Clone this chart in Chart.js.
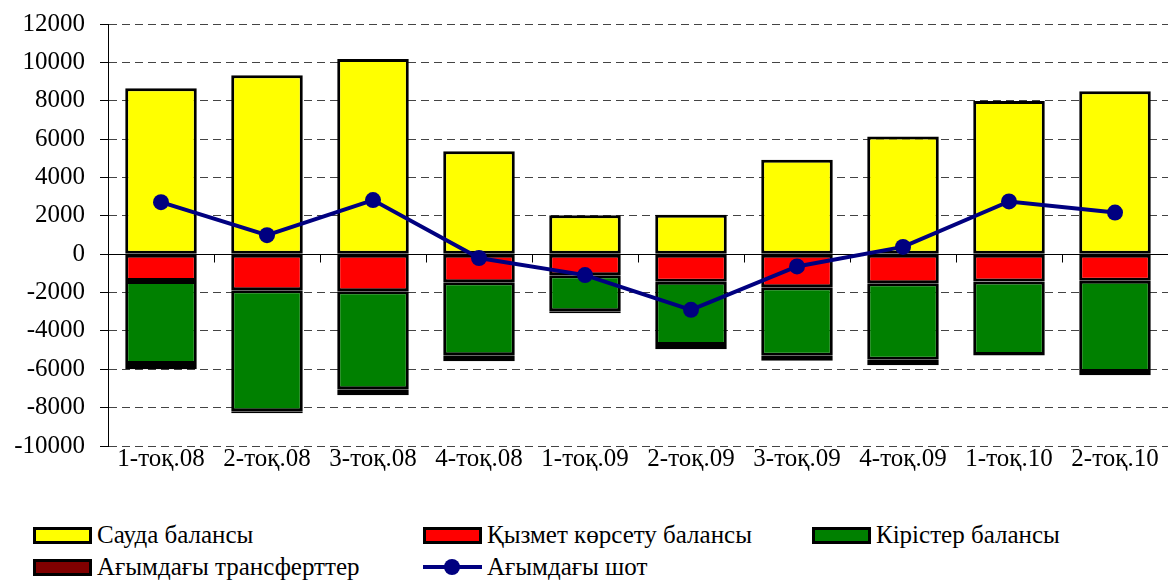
<!DOCTYPE html>
<html>
<head>
<meta charset="utf-8">
<script src="https://cdn.jsdelivr.net/npm/chart.js@4.4.1/dist/chart.umd.min.js"></script>
<style>
  body { margin: 0; background: #fff; }
  #wrap { position: relative; width: 1176px; height: 580px; font-family: 'Liberation Serif', serif; }
  #box { position: absolute; left: 0; top: 0; width: 1176px; height: 480px; }
  #legend { position: absolute; left: 0; top: 519px; width: 1176px; }
  .item { position: absolute; display: flex; align-items: center; height: 32px; font-family: 'Liberation Serif', serif; font-size: 25px; color: #000; white-space: nowrap; }
  .sw { width: 53px; height: 11px; border: 3px solid #000; margin-right: 5px; }
  .ln { position: relative; width: 59px; height: 16px; margin-right: 5px; }
  .ln i { position: absolute; left: 0; right: 0; top: 6px; height: 4px; }
  .ln b { position: absolute; left: 21px; top: 0; width: 16px; height: 16px; border-radius: 50%; }
</style>
</head>
<body>
<div id="wrap">
  <div id="box"><canvas id="balanceChart"></canvas></div>
  <div id="legend"></div>
</div>
<script>
// кварталдар
const labels = ['1-тоқ.08', '2-тоқ.08', '3-тоқ.08', '4-тоқ.08', '1-тоқ.09', '2-тоқ.09', '3-тоқ.09', '4-тоқ.09', '1-тоқ.10', '2-тоқ.10'];

const trade     = [8650, 9330, 10170, 5370, 2030, 2050, 4920, 6140, 7990, 8500];
const services  = [-1400, -1880, -1930, -1460, -1100, -1440, -1720, -1510, -1420, -1390];
const income    = [-4330, -6310, -5110, -3810, -1870, -3300, -3580, -4000, -3830, -4750];
const transfers = [-270, -100, -310, -310, -110, -210, -260, -280, -30, -170];
const current   = [2710, 990, 2820, -200, -1090, -2900, -640, 380, 2750, 2170];

const yTicks = [12000, 10000, 8000, 6000, 4000, 2000, 0, -2000, -4000, -6000, -8000, -10000];

const font = { family: "'Liberation Serif', serif", size: 25 };
Chart.defaults.font.family = "'Liberation Serif', serif";

function bar(label, values, color) {
    return {
        type: 'bar',
        label: label,
        data: values,
        backgroundColor: color,
        borderColor: '#000',
        borderWidth: 3,
        borderSkipped: false,
        barPercentage: 0.675,
        categoryPercentage: 1,
        order: 1
    };
}

// нөлдік сызық және санат белгілері
const zeroLine = {
    id: 'zeroLine',
    beforeDatasetsDraw(chart) {
        const { ctx, chartArea, scales } = chart;
        const y0 = Math.round(scales.y.getPixelForValue(0)) + 0.5;
        ctx.save();
        ctx.strokeStyle = '#000';
        ctx.lineWidth = 1;
        ctx.beginPath();
        ctx.moveTo(chartArea.left, y0);
        ctx.lineTo(chartArea.right, y0);
        for (let i = 1; i < labels.length; i++) {
            const x = Math.round((scales.x.getPixelForValue(i - 1) + scales.x.getPixelForValue(i)) / 2) + 0.5;
            ctx.moveTo(x, y0);
            ctx.lineTo(x, y0 + 8);
        }
        ctx.stroke();
        ctx.restore();
    }
};

const data = {
    labels: labels,
    datasets: [
        {
            type: 'line',
            label: 'Ағымдағы шот',
            data: current,
            borderColor: '#000080',
            backgroundColor: '#000080',
            borderWidth: 4,
            pointRadius: 8,
            pointHoverRadius: 8,
            pointBorderWidth: 0,
            stack: 'line',
            order: 0
        },
        bar('Сауда балансы', trade, '#ffff00'),
        bar('Қызмет көрсету балансы', services, '#ff0000'),
        bar('Кірістер балансы', income, '#008000'),
        bar('Ағымдағы трансферттер', transfers, '#800000')
    ]
};

const config = {
    type: 'bar',
    data: data,
    options: {
        responsive: true,
        maintainAspectRatio: false,
        animation: false,
        layout: { padding: { top: 24, right: 0, left: 0, bottom: 0 } },
        plugins: {
            legend: { display: false },
            tooltip: { enabled: false }
        },
        scales: {
            x: {
                stacked: true,
                grid: { display: false, drawTicks: false },
                border: { display: false },
                ticks: { color: '#000', font: font, padding: -2, maxRotation: 0, autoSkip: false },
                afterFit(scale) {
                    scale.height = 34;
                    scale.paddingLeft = 0;
                    scale.paddingRight = 0;
                }
            },
            y: {
                stacked: true,
                min: -10000,
                max: 12000,
                afterBuildTicks(scale) { scale.ticks = yTicks.map(v => ({ value: v })); },
                afterFit(scale) {
                    scale.width = 108;
                    scale.paddingTop = 0;
                    scale.paddingBottom = 0;
                },
                ticks: { color: '#000', font: font, padding: 15, callback: v => String(v) },
                grid: {
                    color: ctx => (ctx.tick && ctx.tick.value === 0) ? 'rgba(0,0,0,0)' : '#444',
                    lineWidth: 1,
                    tickLength: 8,
                    tickColor: '#000',
                    tickBorderDash: []
                },
                border: { display: true, color: '#000', width: 1, dash: [8, 5] }
            }
        }
    },
    plugins: [zeroLine]
};

let balanceChart;

function drawLegend() {
    const legendOrder = [
        { i: 1, x: 33, row: 0 },
        { i: 2, x: 423, row: 0 },
        { i: 3, x: 812, row: 0 },
        { i: 4, x: 33, row: 1 },
        { i: 0, x: 423, row: 1 }
    ];
    const legendEl = document.getElementById('legend');
    legendOrder.forEach(o => {
        const ds = data.datasets[o.i];
        const item = document.createElement('div');
        item.className = 'item';
        item.style.left = o.x + 'px';
        item.style.top = (o.row * 32) + 'px';
        const sym = document.createElement('span');
        if (ds.type === 'line') {
            sym.className = 'ln';
            sym.innerHTML = '<i style="background:' + ds.borderColor + '"></i><b style="background:' + ds.borderColor + '"></b>';
        } else {
            sym.className = 'sw';
            sym.style.background = ds.backgroundColor;
        }
        item.appendChild(sym);
        item.appendChild(document.createTextNode(ds.label));
        legendEl.appendChild(item);
    });
}

drawLegend();
document.fonts.load("25px 'Liberation Serif'", 'Сауда 12000').then(() => {
    balanceChart = new Chart(document.getElementById('balanceChart'), config);
});
</script>
</body>
</html>
